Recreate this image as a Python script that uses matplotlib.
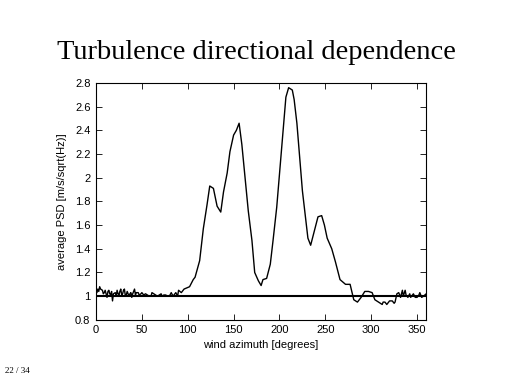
import matplotlib
matplotlib.use('Agg')
from matplotlib import pyplot as plt

# wind azimuth [deg] and average PSD
azimuth = [0, 1, 2, 3, 4, 5, 7, 8, 9, 10, 12, 13, 14, 15, 16, 17, 18, 19, 21,
           22, 23, 24, 25, 26, 27, 28, 29, 30, 31, 32, 33, 34, 36, 37, 38, 39,
           40, 41, 42, 43, 44, 46, 47, 49, 50, 52, 54, 56, 58, 60, 61, 63, 65,
           67, 69, 71, 72, 74, 76, 78, 80, 82, 84, 85, 87, 89, 90, 93, 96, 99,
           102, 106, 108, 113, 117, 121, 124, 128, 132, 136, 139, 143, 146,
           150, 153, 156, 159, 162, 166, 170, 173, 177, 180, 182, 186, 190,
           193, 197, 201, 204, 207, 210, 214, 216, 219, 222, 225, 229, 231,
           234, 238, 242, 246, 249, 252, 257, 261, 266, 272, 277, 281, 285,
           289, 293, 297, 301, 304, 306, 308, 310, 312, 313, 315, 317, 318,
           320, 323, 325, 326, 328, 330, 332, 334, 335, 337, 338, 340, 342,
           343, 345, 346, 348, 350, 352, 353, 355, 357, 360]
psd = [1.05, 1.03, 1.06, 1.04, 1.08, 1.06, 1.05, 1.02, 1.03, 1.05, 0.99, 1.04,
       1.05, 1.02, 1.01, 1.04, 0.96, 1.02, 1.03, 1.00, 1.05, 1.02, 1.01, 1.04,
       1.06, 1.01, 1.02, 1.05, 1.06, 1.00, 1.01, 1.04, 1.00, 1.02, 1.03, 0.99,
       1.02, 1.04, 1.06, 1.01, 1.03, 1.03, 1.01, 1.02, 1.03, 1.01, 1.02, 1.01,
       1.00, 1.00, 1.03, 1.02, 1.01, 1.00, 1.01, 1.02, 1.00, 1.01, 1.01, 1.00,
       1.00, 1.03, 1.00, 1.01, 1.03, 1.00, 1.05, 1.03, 1.06, 1.07, 1.08, 1.14,
       1.16, 1.30, 1.57, 1.77, 1.93, 1.91, 1.76, 1.71, 1.88, 2.04, 2.22, 2.36,
       2.40, 2.46, 2.28, 2.04, 1.72, 1.47, 1.20, 1.13, 1.09, 1.14, 1.15, 1.27,
       1.47, 1.75, 2.12, 2.40, 2.68, 2.76, 2.74, 2.66, 2.46, 2.17, 1.89, 1.62,
       1.49, 1.43, 1.55, 1.67, 1.68, 1.60, 1.49, 1.40, 1.29, 1.14, 1.10, 1.10,
       0.97, 0.95, 0.99, 1.04, 1.04, 1.03, 0.97, 0.96, 0.95, 0.94, 0.93, 0.95,
       0.95, 0.93, 0.94, 0.96, 0.96, 0.94, 0.95, 1.02, 1.03, 0.99, 1.05, 1.00,
       1.05, 1.01, 0.99, 1.02, 0.99, 1.01, 1.02, 0.99, 0.99, 1.01, 1.03, 0.99,
       1.00, 1.02]
reference_level = 1.0

x_ticks = [0, 50, 100, 150, 200, 250, 300, 350]
y_ticks = [0.8, 1, 1.2, 1.4, 1.6, 1.8, 2, 2.2, 2.4, 2.6, 2.8]
y_tick_labels = ['0.8', '1', '1.2', '1.4', '1.6', '1.8', '2', '2.2', '2.4',
                 '2.6', '2.8']

plt.rcParams['font.family'] = ['Liberation Sans', 'DejaVu Sans']

fig = plt.figure(figsize=(5.12, 3.84), dpi=100)
ax = fig.add_axes([0.1875, 0.167, 0.645, 0.617])

ax.plot(azimuth, psd, color='black', linewidth=1.0)
ax.axhline(reference_level, color='black', linewidth=1.5)

ax.set_xlim(0, 360)
ax.set_ylim(0.8, 2.8)
ax.set_xticks(x_ticks)
ax.set_yticks(y_ticks)
ax.set_yticklabels(y_tick_labels)
ax.tick_params(direction='in', top=True, right=True, labelsize=8,
               length=4, width=0.6, pad=4)
for s in ax.spines.values():
	s.set_linewidth(0.8)

ax.set_xlabel('wind azimuth [degrees]', fontsize=8, labelpad=3)
ax.set_ylabel('average PSD [m/s/sqrt(Hz)]', fontsize=8, labelpad=6)

fig.text(0.5, 0.862, 'Turbulence directional dependence', ha='center',
         va='center', fontsize=20.5, family='Liberation Serif')
fig.text(0.01, 0.035, '22 / 34', ha='left', va='center', fontsize=6.5,
         family='Liberation Serif')

fig.savefig('out.png', dpi=100)
